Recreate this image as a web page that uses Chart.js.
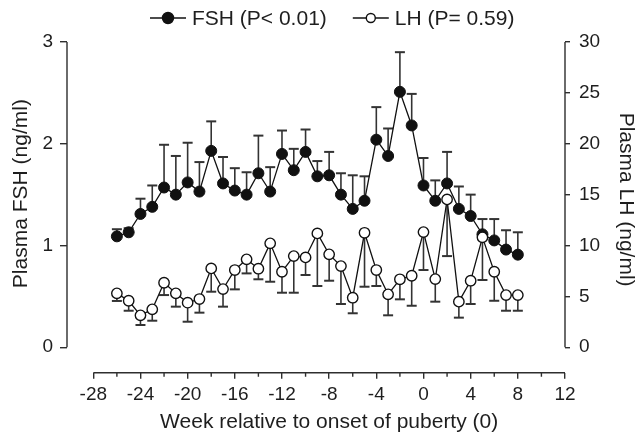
<!DOCTYPE html>
<html><head><meta charset="utf-8">
<script src="https://cdn.jsdelivr.net/npm/chart.js@4/dist/chart.umd.min.js"></script>
<style>html,body{margin:0;padding:0;background:#fff;}</style>
</head><body>
<canvas id="c" width="638" height="432" style="display:block;width:638px;height:432px"></canvas>
<script>
// ---- data ----
const weeks = [-26,-25,-24,-23,-22,-21,-20,-19,-18,-17,-16,-15,-14,-13,-12,-11,-10,-9,-8,-7,-6,-5,-4,-3,-2,-1,0,1,2,3,4,5,6,7,8];
const fshMean = [1.09,1.13,1.31,1.38,1.57,1.50,1.62,1.53,1.93,1.61,1.54,1.50,1.71,1.53,1.90,1.74,1.92,1.68,1.69,1.50,1.36,1.44,2.04,1.88,2.51,2.18,1.59,1.44,1.61,1.36,1.29,1.11,1.05,0.96,0.91];
const fshSem  = [0.07,0.04,0.15,0.21,0.42,0.38,0.39,0.29,0.29,0.26,0.22,0.22,0.37,0.24,0.23,0.21,0.22,0.15,0.23,0.21,0.33,0.24,0.32,0.27,0.39,0.31,0.27,0.20,0.31,0.22,0.21,0.15,0.21,0.19,0.22];
const lhMean  = [5.30,4.57,3.14,3.73,6.34,5.30,4.38,4.74,7.75,5.72,7.59,8.64,7.72,10.21,7.42,8.96,8.83,11.19,9.13,7.98,4.87,11.25,7.59,5.20,6.68,7.03,11.32,6.70,14.53,4.48,6.54,10.80,7.42,5.13,5.13];
const lhSem   = [0.75,0.98,0.95,1.12,1.21,1.31,1.87,1.34,2.29,1.73,1.90,1.38,1.04,3.77,2.06,3.60,1.73,5.17,2.59,3.73,1.53,5.30,1.57,2.06,1.97,2.95,3.73,2.22,5.57,1.57,2.29,4.19,2.85,1.54,1.54];
const xMajorTicks = [-28,-24,-20,-16,-12,-8,-4,0,4,8,12];
const xMinorTicks = [-26,-22,-18,-14,-10,-6,-2,2,6,10];
const fshTicks = [0,1,2,3];
const lhTicks = [0,5,10,15,20,25,30];
const seriesLabels = ['FSH (P< 0.01)','LH (P= 0.59)'];
const xTitle = 'Week relative to onset of puberty (0)';
const yLeftTitle = 'Plasma FSH (ng/ml)';
const yRightTitle = 'Plasma LH (ng/ml)';

const FONT = '"Liberation Sans", Arial, Helvetica, sans-serif';
const INK = '#1e1e1e';
const AXIS = '#2e2e2e';

const errorBars = {
  id: 'errorBars',
  beforeDatasetsDraw(chart) {
    const ctx = chart.ctx, xs = chart.scales.x;
    chart.data.datasets.forEach((ds) => {
      const ys = chart.scales[ds.yAxisID];
      ctx.save();
      ctx.strokeStyle = '#333';
      ds.data.forEach((p, j) => {
        const e = ds.errors[j];
        const px = xs.getPixelForValue(p.x);
        const y0 = ys.getPixelForValue(p.y);
        const y1 = ys.getPixelForValue(p.y + ds.errorDir * e);
        ctx.lineWidth = 1.6;
        ctx.beginPath(); ctx.moveTo(px, y0); ctx.lineTo(px, y1); ctx.stroke();
        ctx.lineWidth = 2;
        ctx.beginPath(); ctx.moveTo(px - 5, y1); ctx.lineTo(px + 5, y1); ctx.stroke();
      });
      ctx.restore();
    });
  }
};

const decorations = {
  id: 'decorations',
  afterDraw(chart) {
    const ctx = chart.ctx, a = chart.chartArea;
    const xs = chart.scales.x, yl = chart.scales.y, yr = chart.scales.y1;
    ctx.save();
    ctx.strokeStyle = AXIS; ctx.lineWidth = 1.4;
    ctx.beginPath();
    ctx.moveTo(a.left, yl.getPixelForValue(fshTicks[0]));
    ctx.lineTo(a.left, yl.getPixelForValue(fshTicks[fshTicks.length-1]));
    ctx.moveTo(a.right, yr.getPixelForValue(lhTicks[0]));
    ctx.lineTo(a.right, yr.getPixelForValue(lhTicks[lhTicks.length-1]));
    const x0 = xs.getPixelForValue(xMajorTicks[0]);
    const x1 = xs.getPixelForValue(xMajorTicks[xMajorTicks.length-1]);
    ctx.moveTo(x0, a.bottom); ctx.lineTo(x1, a.bottom);
    xMinorTicks.forEach(v => {
      const px = xs.getPixelForValue(v);
      ctx.moveTo(px, a.bottom); ctx.lineTo(px, a.bottom + 4);
    });
    ctx.stroke();

    // axis titles
    ctx.fillStyle = INK;
    ctx.font = '21px ' + FONT;
    ctx.textAlign = 'center';
    ctx.textBaseline = 'alphabetic';
    ctx.fillText(xTitle, (x0 + x1) / 2, 428);
    ctx.textBaseline = 'middle';
    const yMidL = (yl.getPixelForValue(fshTicks[0]) + yl.getPixelForValue(fshTicks[fshTicks.length-1])) / 2;
    ctx.save(); ctx.translate(21, yMidL - 1); ctx.rotate(-Math.PI / 2);
    ctx.fillText(yLeftTitle, 0, 0); ctx.restore();
    ctx.save(); ctx.translate(626, yMidL + 5); ctx.rotate(Math.PI / 2);
    ctx.fillText(yRightTitle, 0, 0); ctx.restore();

    // legend
    ctx.font = '21px ' + FONT;
    ctx.textAlign = 'left';
    ctx.textBaseline = 'middle';
    const yLeg = 18;
    let x = 150;
    chart.data.datasets.forEach((ds, i) => {
      ctx.strokeStyle = '#111'; ctx.lineWidth = 1.4;
      ctx.beginPath(); ctx.moveTo(x, yLeg); ctx.lineTo(x + 36, yLeg); ctx.stroke();
      ctx.beginPath(); ctx.arc(x + 18, yLeg, i === 0 ? 5.5 : 4.5, 0, Math.PI * 2);
      ctx.fillStyle = ds.pointBackgroundColor; ctx.fill(); ctx.stroke();
      ctx.fillStyle = INK;
      ctx.fillText(ds.label, x + 42, yLeg + 1);
      x += 42 + ctx.measureText(ds.label).width + 26;
    });
    ctx.restore();
  }
};

const tickSetter = (vals) => (scale) => { scale.ticks = vals.map(v => ({value: v})); };

new Chart(document.getElementById('c'), {
  type: 'line',
  data: {
    datasets: [
      { label: seriesLabels[0], yAxisID: 'y', order: 2,
        data: weeks.map((w, i) => ({x: w, y: fshMean[i]})),
        errors: fshSem, errorDir: 1,
        borderColor: '#111', borderWidth: 1.3,
        pointRadius: 5.5, pointBackgroundColor: '#111', pointBorderColor: '#111', pointBorderWidth: 1,
        tension: 0, fill: false },
      { label: seriesLabels[1], yAxisID: 'y1', order: 1,
        data: weeks.map((w, i) => ({x: w, y: lhMean[i]})),
        errors: lhSem, errorDir: -1,
        borderColor: '#111', borderWidth: 1.3,
        pointRadius: 5.2, pointBackgroundColor: '#ffffff', pointBorderColor: '#111', pointBorderWidth: 1.4,
        tension: 0, fill: false }
    ]
  },
  options: {
    responsive: false, animation: false, devicePixelRatio: 1,
    layout: { padding: { top: 42, left: 0, right: 0, bottom: 0 } },
    plugins: { legend: { display: false }, tooltip: { enabled: false } },
    scales: {
      x: {
        type: 'linear', min: -30.23, max: 12,
        afterFit: (s) => { s.height = 59.3; },
        afterBuildTicks: tickSetter(xMajorTicks),
        border: { display: false },
        grid: { drawOnChartArea: false, drawTicks: true, tickLength: 6, color: AXIS, lineWidth: 1.4 },
        ticks: { color: INK, font: { family: FONT, size: 19 }, padding: 5, maxRotation: 0, autoSkip: false },
        title: { display: false }
      },
      y: {
        position: 'left', min: -0.25, max: 3,
        afterFit: (s) => { s.width = 67; },
        afterBuildTicks: tickSetter(fshTicks),
        border: { display: false },
        grid: { drawOnChartArea: false, drawTicks: true, tickLength: 7, color: AXIS, lineWidth: 1.4 },
        ticks: { color: INK, font: { family: FONT, size: 19 }, padding: 7 },
        title: { display: false }
      },
      y1: {
        position: 'right', min: -2.5, max: 30,
        afterFit: (s) => { s.width = 73; },
        afterBuildTicks: tickSetter(lhTicks),
        border: { display: false },
        grid: { drawOnChartArea: false, drawTicks: true, tickLength: 5, color: AXIS, lineWidth: 1.4 },
        ticks: { color: INK, font: { family: FONT, size: 19 }, padding: 9 },
        title: { display: false }
      }
    }
  },
  plugins: [errorBars, decorations]
});
</script>
</body></html>
